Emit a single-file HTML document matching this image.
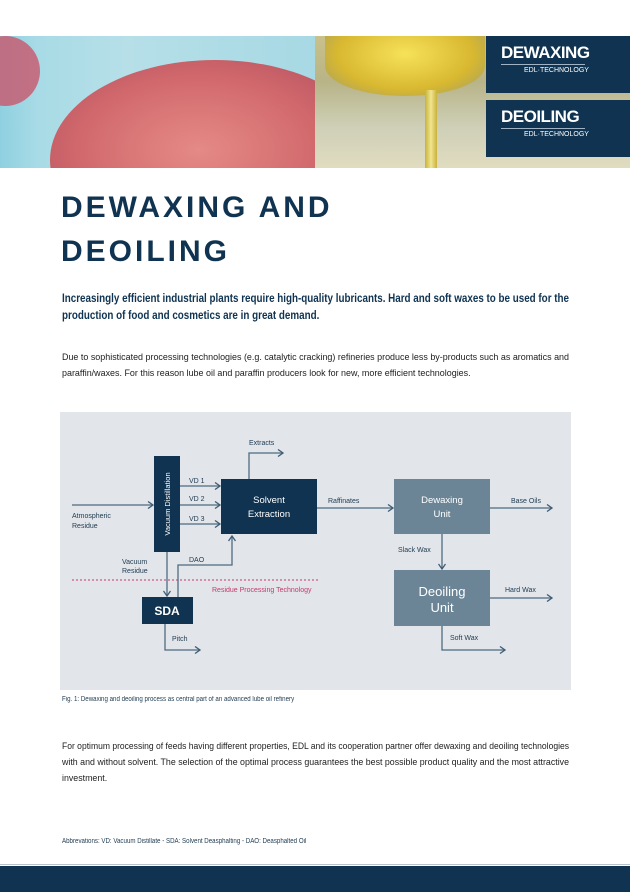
<!DOCTYPE html>
<html><head><meta charset="utf-8"><style>
*{margin:0;padding:0;box-sizing:border-box}
body{width:630px;height:892px;position:relative;background:#fff;font-family:"Liberation Sans",sans-serif;overflow:hidden;color:#1d1d1d}
.abs{position:absolute}
.nb{background:#0f3350;color:#fff}
.blk>div{white-space:nowrap;transform-origin:0 0;display:block;width:max-content}
</style></head><body>
<!-- header images -->
<div class="abs" style="left:0;top:36px;width:315px;height:132px;background:linear-gradient(90deg,#8fd0e0 0%,#a8dbe6 12%,#b6dfe8 40%,#a7d9e4 100%)"></div>
<div class="abs" style="left:-30px;top:36px;width:70px;height:70px;border-radius:50%;background:#c9566c;opacity:.8"></div>
<div class="abs" style="left:50px;top:60px;width:330px;height:200px;border-radius:50%;background:radial-gradient(ellipse at 45% 45%,#e58a86 0%,#d26a6d 45%,#b85361 75%,#e8c9c6 90%);clip-path:inset(0 65px 92px 0)"></div>
<div class="abs" style="left:315px;top:36px;width:315px;height:132px;background:linear-gradient(180deg,#c9c18a 0%,#b8b488 35%,#cfd0b8 70%,#e0dcc0 100%)"></div>
<div class="abs" style="left:325px;top:36px;width:160px;height:60px;border-radius:0 0 50% 50%;background:radial-gradient(ellipse at 50% 30%,#f6e25a,#d8b830 60%,#9a9a70)"></div>
<div class="abs" style="left:425px;top:90px;width:12px;height:78px;background:linear-gradient(90deg,#c9b23a,#f0e590,#c9b23a)"></div>
<div class="abs nb" style="left:486px;top:36px;width:144px;height:57px">
 <div class="abs" style="left:15px;top:7px;font-size:17px;font-weight:bold;letter-spacing:-0.5px">DEWAXING</div>
 <div class="abs" style="left:15px;top:28px;width:84px;height:1px;background:#9fb3c4"></div>
 <div class="abs" style="left:38px;top:31px;font-size:7px">EDL·TECHNOLOGY</div>
</div>
<div class="abs nb" style="left:486px;top:100px;width:144px;height:57px">
 <div class="abs" style="left:15px;top:7px;font-size:17px;font-weight:bold;letter-spacing:-0.5px">DEOILING</div>
 <div class="abs" style="left:15px;top:28px;width:84px;height:1px;background:#9fb3c4"></div>
 <div class="abs" style="left:38px;top:31px;font-size:7px">EDL·TECHNOLOGY</div>
</div>
<!-- title -->
<div class="abs" style="left:61px;top:186px;font-weight:bold;font-size:30px;line-height:44px;letter-spacing:3px;color:#0f3350">DEWAXING AND<br>DEOILING</div>
<div class="abs blk" style="left:62px;top:290px;width:507px;font-weight:bold;font-size:12px;line-height:17px;color:#0f3350"><div class="fit">Increasingly efficient industrial plants require high-quality lubricants. Hard and soft waxes to be used for the</div><div>production of food and cosmetics are in great demand.</div></div>
<div class="abs blk" style="left:62px;top:349px;width:507px;font-size:9px;line-height:16px"><div class="fit">Due to sophisticated processing technologies (e.g. catalytic cracking) refineries produce less by-products such as aromatics and</div><div>paraffin/waxes. For this reason lube oil and paraffin producers look for new, more efficient technologies.</div></div>
<!-- diagram -->
<svg class="abs" style="left:60px;top:412px" width="511" height="278" viewBox="60 412 511 278" font-family="Liberation Sans, sans-serif">
<defs><marker id="a" markerWidth="8" markerHeight="8" refX="6" refY="4" orient="auto" markerUnits="userSpaceOnUse"><path d="M1,0.5 L6,4 L1,7.5" fill="none" stroke="#3e5d74" stroke-width="1.3"/></marker></defs>
<rect x="60" y="412" width="511" height="278" fill="#e2e5ea"/>
<g stroke="#4e6b80" stroke-width="1.3" fill="none" marker-end="url(#a)">
<path d="M72,505 H153"/>
<path d="M180,486 H220"/><path d="M180,505 H220"/><path d="M180,524 H220"/>
<path d="M249,479 V453 H283"/>
<path d="M167,552 V596"/>
<path d="M178,597 V565 H232 V536"/>
<path d="M165,623 V650 H200"/>
<path d="M317,508 H393"/>
<path d="M490,508 H552"/>
<path d="M442,534 V569"/>
<path d="M490,598 H552"/>
<path d="M442,626 V650 H505"/>
</g>
<line x1="72" y1="580" x2="318" y2="580" stroke="#c8396b" stroke-width="1" stroke-dasharray="2,2"/>
<rect x="154" y="456" width="26" height="96" fill="#0f3350"/>
<text transform="translate(170,504) rotate(-90)" text-anchor="middle" fill="#fff" font-size="7.5">Vacuum Distillation</text>
<rect x="221" y="479" width="96" height="55" fill="#0f3350"/>
<text x="269" y="503" text-anchor="middle" fill="#fff" font-size="9.5">Solvent</text>
<text x="269" y="517" text-anchor="middle" fill="#fff" font-size="9.5">Extraction</text>
<rect x="142" y="597" width="51" height="27" fill="#0f3350"/>
<text x="167" y="615" text-anchor="middle" fill="#fff" font-size="12" font-weight="bold">SDA</text>
<rect x="394" y="479" width="96" height="55" fill="#6b8596"/>
<text x="442" y="503" text-anchor="middle" fill="#fff" font-size="9.5">Dewaxing</text>
<text x="442" y="517" text-anchor="middle" fill="#fff" font-size="9.5">Unit</text>
<rect x="394" y="570" width="96" height="56" fill="#6b8596"/>
<text x="442" y="596" text-anchor="middle" fill="#fff" font-size="13">Deoiling</text>
<text x="442" y="612" text-anchor="middle" fill="#fff" font-size="13">Unit</text>
<g fill="#1e3a50" font-size="7">
<text x="249" y="445">Extracts</text>
<text x="189" y="483">VD 1</text><text x="189" y="501">VD 2</text><text x="189" y="521">VD 3</text>
<text x="72" y="518">Atmospheric</text><text x="72" y="528">Residue</text>
<text x="122" y="564">Vacuum</text><text x="122" y="573">Residue</text>
<text x="189" y="562">DAO</text>
<text x="172" y="641">Pitch</text>
<text x="328" y="503">Raffinates</text>
<text x="511" y="503">Base Oils</text>
<text x="398" y="552">Slack Wax</text>
<text x="505" y="592">Hard Wax</text>
<text x="450" y="640">Soft Wax</text>
</g>
<text x="212" y="592" fill="#c8396b" font-size="7">Residue Processing Technology</text>
</svg>
<div class="abs blk" style="left:62px;top:696px;font-size:7px;color:#1e3a50"><div class="sc" style="transform:scaleX(0.88)">Fig. 1: Dewaxing and deoiling process as central part of an advanced lube oil refinery</div></div>
<div class="abs blk" style="left:62px;top:738px;width:507px;font-size:9px;line-height:16px"><div class="fit">For optimum processing of feeds having different properties, EDL and its cooperation partner offer dewaxing and deoiling technologies</div><div class="fit">with and without solvent. The selection of the optimal process guarantees the best possible product quality and the most attractive</div><div>investment.</div></div>
<div class="abs blk" style="left:62px;top:838px;font-size:7px;color:#1e3a50"><div style="transform:scaleX(0.88)">Abbrevations: VD: Vacuum Distillate - SDA: Solvent Deasphalting - DAO: Deasphalted Oil</div></div>
<div class="abs" style="left:0;top:864px;width:630px;height:1px;background:#b8c2cc"></div>
<div class="abs nb" style="left:0;top:866px;width:630px;height:26px"></div>
<script>
document.querySelectorAll('.blk').forEach(function(b){
  var W=b.clientWidth, s=1;
  Array.prototype.forEach.call(b.children,function(d){
    if(d.classList.contains('fit')){
      var w=d.getBoundingClientRect().width; s=W/w;
      d.style.transform='scaleX('+s+')';
    } else if(!d.style.transform){
      d.style.transform='scaleX('+s+')';
    }
  });
});
</script>
</body></html>
